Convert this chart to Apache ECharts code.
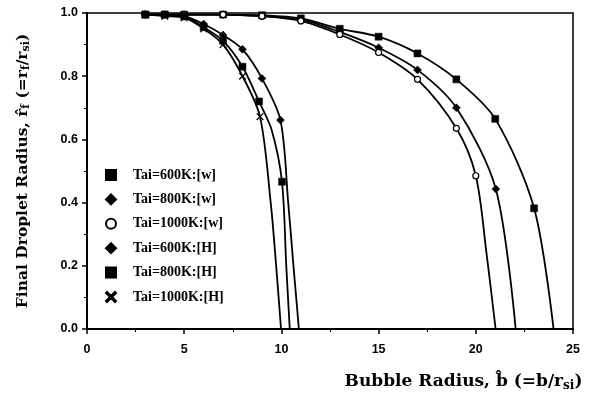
<!DOCTYPE html>
<html><head><meta charset="utf-8">
<script src="https://cdn.jsdelivr.net/npm/echarts@6/dist/echarts.min.js"></script>
<style>html,body{margin:0;padding:0;background:#fff}#c{width:598px;height:397px}</style>
</head><body><div id="c"></div>
<script>
// Series names (legend order)
const names = ['Tai=600K:[w]','Tai=800K:[w]','Tai=1000K:[w]','Tai=600K:[H]','Tai=800K:[H]','Tai=1000K:[H]'];
// Read points along each curve; mark[] = 1 where a marker is drawn
const w600x = [3, 4, 5, 7, 9, 11, 13, 15, 17, 19, 21, 23, 24.0];
const w600y = [0.995,0.995,0.995,0.995,0.993,0.983,0.95,0.925,0.872,0.79,0.665,0.382,0];
const w600m = [1,1,1,1,1,1,1,1,1,1,1,1,0];
const w800x = [3, 5, 7, 9, 11, 13, 15, 17, 19, 21.03, 22.05];
const w800y = [0.995,0.995,0.995,0.99,0.98,0.94,0.89,0.82,0.70,0.443,0];
const w800m = [1,1,1,1,1,1,1,1,1,1,0];
const w1000x = [3, 5, 7, 9, 11, 13, 15, 17, 19, 20.0, 20.55, 21.02];
const w1000y = [0.995,0.995,0.995,0.99,0.975,0.932,0.875,0.79,0.635,0.485,0.24,0];
const w1000m = [1,1,1,1,1,1,1,1,1,1,0,0];
const h600x = [3, 4, 5, 6, 7, 8, 9, 9.95, 10.35, 10.62, 10.9];
const h600y = [0.995,0.995,0.99,0.965,0.93,0.885,0.793,0.661,0.4,0.2,0];
const h600m = [1,1,1,1,1,1,1,1,0,0,0];
const h800x = [3, 4, 5, 6, 7, 8, 8.85, 9.5, 10.03, 10.25, 10.43];
const h800y = [0.995,0.995,0.99,0.955,0.912,0.83,0.72,0.63,0.466,0.2,0];
const h800m = [1,1,1,1,1,1,1,0,1,0,0];
const h1000x = [3, 4, 5, 6, 7, 8, 8.9, 9.45, 9.73, 9.98];
const h1000y = [0.995,0.99,0.985,0.95,0.90,0.80,0.672,0.4,0.2,0];
const h1000m = [1,1,1,1,1,1,1,0,0,0];
// Axis ticks
const xTicks = [0, 5, 10, 15, 20, 25];
const yTicks = [0.0, 0.2, 0.4, 0.6, 0.8, 1.0];

const xSym = 'path://M1,0L5,4L9,0L10,1L6,5L10,9L9,10L5,6L1,10L0,9L4,5L0,1Z';
const cfg = [
  [w600x,w600y,w600m,'rect',7,'#000'],
  [w800x,w800y,w800m,'diamond',8,'#000'],
  [w1000x,w1000y,w1000m,'circle',6,'#fff'],
  [h600x,h600y,h600m,'diamond',8,'#000'],
  [h800x,h800y,h800m,'rect',7,'#000'],
  [h1000x,h1000y,h1000m,xSym,7,'#000']
];
const series = cfg.map((c,i)=>({
  name: names[i], type:'line', smooth:0.3,
  symbol: c[3], symbolSize: c[4], showAllSymbol:true,
  lineStyle:{color:'#000', width:1.8},
  itemStyle:{color:c[5], borderColor:'#000', borderWidth: c[5]==='#fff'?1.2:0.5},
  data: c[0].map((x,j)=>c[2][j]?[x,c[1][j]]:{value:[x,c[1][j]],symbol:'none'}),
  z: 3
}));

const chart = echarts.init(document.getElementById('c'));
chart.setOption({
  animation:false,
  backgroundColor:'#fff',
  grid:{left:87,right:25,top:13,bottom:68,show:true,borderColor:'#000',borderWidth:1.5,outerBoundsMode:'none',containLabel:false},
  legend:{
    orient:'vertical', left:105, top:168, padding:0, itemGap:10.4, itemWidth:10, itemHeight:10,
    data: names.map((n,i)=>({name:n, icon: cfg[i][3]})),
    textStyle:{fontFamily:'Liberation Serif',fontWeight:'bold',fontSize:14,lineHeight:14,color:'#000',padding:[0,0,0,12]},
    itemStyle:{borderColor:'#000'}
  },
  xAxis:{
    type:'value', min:0, max:25, interval:5,
    axisLine:{lineStyle:{color:'#000',width:2}},
    axisTick:{show:true,length:5,lineStyle:{color:'#000',width:1.5}},
    minorTick:{show:true,splitNumber:2,length:3,lineStyle:{color:'#000'}},
    splitLine:{show:false},
    axisLabel:{color:'#000',fontFamily:'Liberation Sans',fontWeight:'bold',fontSize:12.5,margin:14,
      formatter:v=>xTicks.includes(v)?String(v):''},
    name:'Bubble Radius, b\u0302 (=b/r{s|si})', nameLocation:'middle', nameGap:43,
    nameTextStyle:{color:'#000',fontFamily:'DejaVu Serif',fontWeight:'bold',fontSize:17,padding:[0,0,0,267],
      rich:{s:{fontFamily:'DejaVu Serif',fontWeight:'bold',fontSize:12,padding:[8,0,0,0]}}}
  },
  yAxis:{
    type:'value', min:0, max:1, interval:0.2,
    axisLine:{lineStyle:{color:'#000',width:2}},
    axisTick:{show:true,length:5,lineStyle:{color:'#000',width:1.5}},
    minorTick:{show:true,splitNumber:2,length:3,lineStyle:{color:'#000'}},
    splitLine:{show:false},
    axisLabel:{color:'#000',fontFamily:'Liberation Sans',fontWeight:'bold',fontSize:12.5,margin:9,
      formatter:v=>{const t=yTicks.find(k=>Math.abs(k-v)<1e-6);return t===undefined?'':t.toFixed(1);}},
    name:'Final Droplet Radius, r\u0302{s|f} (=r{s|f}/r{s|si})', nameLocation:'middle', nameGap:55,
    nameTextStyle:{color:'#000',fontFamily:'DejaVu Serif',fontWeight:'bold',fontSize:15.5,
      rich:{s:{fontFamily:'DejaVu Serif',fontWeight:'bold',fontSize:11,padding:[7,0,0,0]}}}
  },
  series
});
</script></body></html>
